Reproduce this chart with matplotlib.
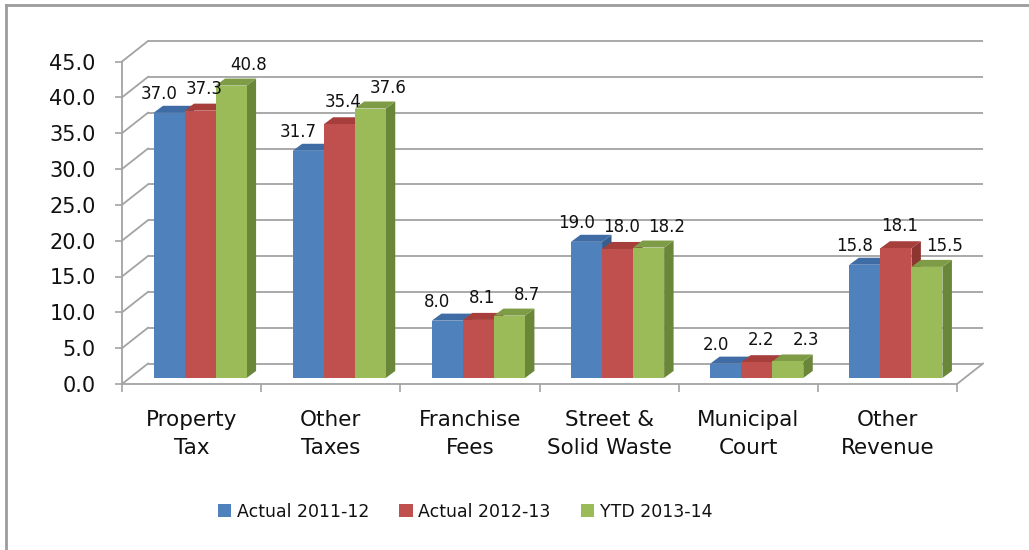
import matplotlib
matplotlib.use('Agg')
import matplotlib.pyplot as plt
from matplotlib.patches import Polygon, Patch
from matplotlib.lines import Line2D
import numpy as np

# ---------------- data ----------------
categories = ['Property\nTax', 'Other\nTaxes', 'Franchise\nFees',
              'Street &\nSolid Waste', 'Municipal\nCourt', 'Other\nRevenue']
series_names = ['Actual 2011-12', 'Actual 2012-13', 'YTD 2013-14']
actual_2011_12 = [37.0, 31.7, 8.0, 19.0, 2.0, 15.8]
actual_2012_13 = [37.3, 35.4, 8.1, 18.0, 2.2, 18.1]
ytd_2013_14 = [40.8, 37.6, 8.7, 18.2, 2.3, 15.5]
y_ticks = [0, 5, 10, 15, 20, 25, 30, 35, 40, 45]

series = [actual_2011_12, actual_2012_13, ytd_2013_14]

# ---------------- style ----------------
front_colors = ['#4F81BD', '#C0504D', '#9BBB59']
top_colors = ['#3F6CA5', '#A63E3B', '#7E9C45']
side_colors = ['#365E8E', '#8E3431', '#6A8639']
grid_color = '#A3A3A3'

# 3D projection offsets (data units)
dxb, dyb = 0.187, 2.86     # back wall offset
dxp, dyp = 0.061, 0.84     # bar plane offset
ddx, ddy = 0.068, 0.98     # bar depth
bar_w = 0.223
label_offsets = [(-10, 19), (4, 22), (18, 21)]  # pixels

fig = plt.figure(figsize=(10.29, 5.5), dpi=100)
ax = fig.add_axes([122 / 1029, (550 - 384) / 550, 835 / 1029, 322.5 / 550])
ax.set_xlim(-0.5, 5.5)
ax.set_ylim(0, 45)
ax.patch.set_visible(False)

n = len(categories)
x0, x1 = -0.5, n - 0.5

# back wall gridlines and side wall diagonals
for yv in y_ticks:
    ax.plot([x0 + dxb, x1 + dxb], [yv + dyb, yv + dyb], color=grid_color,
            lw=1.3, clip_on=False, zorder=1, solid_capstyle='butt')
    ax.plot([x0, x0 + dxb], [yv, yv + dyb], color=grid_color,
            lw=1.3, clip_on=False, zorder=1)
# floor right edge
ax.plot([x1, x1 + dxb], [0, dyb], color=grid_color, lw=1.3, clip_on=False, zorder=1)

# bars
for i in range(n):
    for j, vals in enumerate(series):
        v = vals[i]
        xl = i + (j - 1.5) * bar_w + dxp
        xr = xl + bar_w
        yb = dyp
        yt = dyp + v
        side = Polygon([(xr, yb), (xr + ddx, yb + ddy), (xr + ddx, yt + ddy), (xr, yt)],
                       closed=True, facecolor=side_colors[j], edgecolor='none',
                       zorder=3, clip_on=False)
        top = Polygon([(xl, yt), (xr, yt), (xr + ddx, yt + ddy), (xl + ddx, yt + ddy)],
                      closed=True, facecolor=top_colors[j], edgecolor='none',
                      zorder=3, clip_on=False)
        ax.add_patch(side)
        ax.add_patch(top)

for j, vals in enumerate(series):
    xs = np.arange(n) + (j - 1) * bar_w + dxp
    ax.bar(xs, vals, width=bar_w, bottom=dyp, color=front_colors[j],
           edgecolor='none', zorder=4, clip_on=False)
    for i, v in enumerate(vals):
        ax.annotate(f'{v:.1f}', xy=(xs[i], v + dyp), xytext=label_offsets[j],
                    textcoords='offset pixels', ha='center', va='center',
                    fontsize=12, color='#111111', zorder=6, annotation_clip=False)

# axes styling
for s in ['top', 'right']:
    ax.spines[s].set_visible(False)
for s in ['left', 'bottom']:
    ax.spines[s].set_color(grid_color)
    ax.spines[s].set_linewidth(1.3)

ax.set_yticks(y_ticks)
ax.set_yticklabels([f'{t:.1f}' for t in y_ticks])
ax.tick_params(axis='y', length=5, width=1.2, color=grid_color, pad=14,
               labelsize=15, labelcolor='#111111')

ax.set_xticks(np.arange(n))
ax.set_xticklabels(categories, linespacing=1.45)
ax.set_xticks(np.arange(n + 1) - 0.5, minor=True)
ax.tick_params(axis='x', which='major', length=0, pad=19, labelsize=15.5,
               labelcolor='#111111')
ax.tick_params(axis='x', which='minor', length=6, width=1.2, color=grid_color)

# legend
handles = [Patch(facecolor=c, edgecolor='none') for c in front_colors]
fig.legend(handles, series_names, loc='center', ncol=3, frameon=False,
           bbox_to_anchor=(465 / 1029, 1 - 512 / 550), fontsize=12.5,
           handlelength=0.78, handleheight=0.78, handletextpad=0.3,
           columnspacing=1.75, labelcolor='#111111')

# outer frame (left and top edges)
fig.add_artist(Line2D([5.5 / 1029, 5.5 / 1029], [0, 1 - 5 / 550],
                      transform=fig.transFigure, color='#9C9C9C', lw=2))
fig.add_artist(Line2D([5.5 / 1029, 1], [1 - 5 / 550, 1 - 5 / 550],
                      transform=fig.transFigure, color='#9C9C9C', lw=2))

fig.savefig('out.png', dpi=100)
